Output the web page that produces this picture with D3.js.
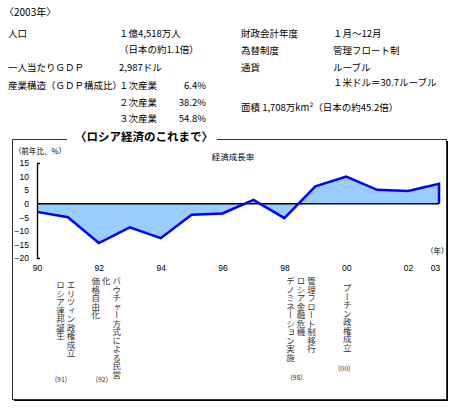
<!DOCTYPE html>
<html>
<head>
<meta charset="utf-8">
<script src="https://cdn.jsdelivr.net/npm/d3@7"></script>
<style>
  body { margin: 0; background: #fff; }
  svg { font-family: "Noto Sans CJK JP", sans-serif; }
  .vt { writing-mode: vertical-rl; }
</style>
</head>
<body>
<div id="chart"></div>
<script>
// growth rate, % vs previous year
var years = [1990, 1991, 1992, 1993, 1994, 1995, 1996, 1997, 1998, 1999, 2000, 2001, 2002, 2003];
var growth = [-3.0, -5.0, -14.5, -8.7, -12.7, -4.1, -3.6, 1.4, -5.3, 6.4, 10.0, 5.1, 4.7, 7.3];
var yTicks = [-20, -15, -10, -5, 0, 5, 10, 15];
var xTicks = [1990, 1992, 1994, 1996, 1998, 2000, 2002, 2003];

// profile table (left / right columns)
var leftRows = [
  ["人口", "１億4,518万人", ""],
  ["", "（日本の約1.1倍）", ""],
  ["一人当たりＧＤＰ", "2,987ドル", ""],
  ["産業構造（ＧＤＰ構成比）", "１次産業", "6.4%"],
  ["", "２次産業", "38.2%"],
  ["", "３次産業", "54.8%"]
];
var rightRows = [
  ["財政会計年度", "１月～12月"],
  ["為替制度", "管理フロート制"],
  ["通貨", "ルーブル"],
  ["", "１米ドル＝30.7ルーブル"],
  ["面積 1,708万km²（日本の約45.2倍）", ""]
];

// events under the axis, columns listed right to left
var events = [
  {year: 1991, cols: ["エリツィン政権成立", "ロシア連邦誕生"], note: "(91)"},
  {year: 1992, cols: ["バウチャー方式による民営", "化", "価格自由化"], note: "(92)"},
  {year: 1998, cols: ["管理フロート制移行", "ロシア金融危機", "デノミネーション実施"], note: "(98)"},
  {year: 2000, cols: ["プーチン政権成立"], note: "(00)"}
];

var W = 457, H = 413;
var svg = d3.select("#chart").append("svg")
    .attr("width", W).attr("height", H);

// ---- top table ----
svg.append("text").attr("x", 4).attr("y", 16)
    .attr("font-size", 10).text("〈2003年〉");

var leftY = [37, 53, 71, 89, 106, 122];
leftRows.forEach(function(r, i) {
  svg.append("text").attr("x", 8).attr("y", leftY[i]).attr("font-size", 9.5).text(r[0]);
  svg.append("text").attr("x", 119).attr("y", leftY[i]).attr("font-size", 9.5).text(r[1]);
  if (r[2]) {
    svg.append("text").attr("x", 206).attr("y", leftY[i]).attr("font-size", 9.5)
        .attr("text-anchor", "end").text(r[2]);
  }
});

var rightY = [37, 54, 71, 86, 111];
rightRows.forEach(function(r, i) {
  svg.append("text").attr("x", 241).attr("y", rightY[i]).attr("font-size", 9.5).text(r[0]);
  svg.append("text").attr("x", 333).attr("y", rightY[i]).attr("font-size", 9.5).text(r[1]);
});

// ---- frame ----
svg.append("rect").attr("x", 14).attr("y", 141).attr("width", 434).attr("height", 260)
    .attr("fill", "#000");
svg.append("rect").attr("x", 12.5).attr("y", 139.5).attr("width", 434).attr("height", 260)
    .attr("fill", "#fff").attr("stroke", "#333").attr("stroke-width", 1);
svg.append("rect").attr("x", 67).attr("y", 130).attr("width", 150).attr("height", 14)
    .attr("fill", "#fff");
svg.append("text").attr("x", 144).attr("y", 141)
    .attr("text-anchor", "middle").attr("font-size", 11.5).attr("font-weight", "bold")
    .text("〈ロシア経済のこれまで〉");

// ---- chart ----
var x = d3.scaleLinear().domain([1990, 2003]).range([37, 439]);
var y = d3.scaleLinear().domain([-20, 15]).range([258, 163]);

var pts = years.map(function(d, i) { return {year: d, v: growth[i]}; });

var area = d3.area()
    .x(function(d) { return x(d.year); })
    .y0(y(0))
    .y1(function(d) { return y(d.v); });

svg.append("path").datum(pts)
    .attr("d", area)
    .attr("fill", "#99ccff");

svg.append("line")
    .attr("x1", x(1990)).attr("x2", x(2003))
    .attr("y1", y(0)).attr("y2", y(0))
    .attr("stroke", "#000").attr("stroke-width", 1.5);

var line = d3.line()
    .x(function(d) { return x(d.year); })
    .y(function(d) { return y(d.v); });

var last = pts[pts.length - 1];
svg.append("path").datum(pts.concat([{year: last.year, v: 0}]))
    .attr("d", line)
    .attr("fill", "none")
    .attr("stroke", "#0000ff")
    .attr("stroke-width", 2.5)
    .attr("stroke-linejoin", "miter");

var yAxis = svg.append("g")
    .attr("transform", "translate(" + x(1990) + ",0)")
    .call(d3.axisLeft(y).tickValues(yTicks).tickSizeInner(0).tickSizeOuter(-3).tickPadding(8));
yAxis.select(".domain").attr("stroke", "#000").attr("stroke-width", 1.3);
yAxis.selectAll("text").attr("font-size", 8.5).attr("fill", "#000")
    .attr("font-family", "Arial, 'Liberation Sans', sans-serif");

var xAxis = svg.append("g")
    .attr("transform", "translate(0," + 265 + ")")
    .call(d3.axisBottom(x).tickValues(xTicks).tickSize(0).tickPadding(0)
      .tickFormat(function(d) { return d3.format("02")(d % 100); }));
xAxis.select(".domain").remove();
xAxis.selectAll("text").attr("font-size", 8.5).attr("fill", "#000")
    .attr("font-family", "Arial, 'Liberation Sans', sans-serif");
xAxis.selectAll(".tick").filter(function(d) { return d === 2003; })
    .select("text").attr("dx", -4);

svg.append("text").attr("x", 14).attr("y", 154).attr("font-size", 7.5)
    .text("（前年比、%）");
svg.append("text").attr("x", 233).attr("y", 160).attr("font-size", 8.5)
    .attr("text-anchor", "middle").text("経済成長率");
svg.append("text").attr("x", 426).attr("y", 254).attr("font-size", 7.5)
    .text("（年）");

// ---- event notes (vertical) ----
var colLayout = {1991: {dx: 3, top: 281, noteDx: -7, noteY: 382},
                 1992: {dx: 18, top: 277, noteDx: 3, noteY: 382},
                 1998: {dx: 27, top: 277, noteDx: 12, noteY: 380},
                 2000: {dx: 1, top: 284, noteDx: -2, noteY: 371}};
events.forEach(function(ev) {
  var L = colLayout[ev.year];
  var cx = x(ev.year) + L.dx;
  ev.cols.forEach(function(c, i) {
    svg.append("text").attr("class", "vt")
        .attr("x", cx - i * 10.5).attr("y", L.top)
        .attr("font-size", 8.5).attr("fill", "#333")
        .text(c);
  });
  svg.append("text").attr("x", x(ev.year) + L.noteDx).attr("y", L.noteY)
      .attr("text-anchor", "middle").attr("font-size", 7).attr("fill", "#333")
      .text(ev.note);
});
</script>
</body>
</html>
